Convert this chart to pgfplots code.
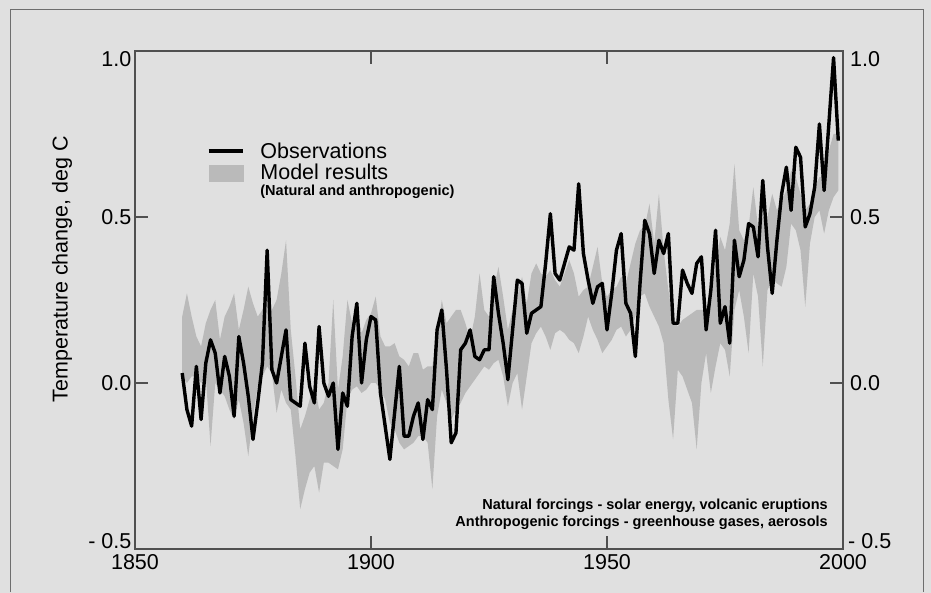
\documentclass[border=0pt]{standalone}
\usepackage{fontspec}
\setmainfont{Liberation Sans}
\usepackage{xcolor}
\usepackage{pgfplots}
\usepackage{pgfplotstable}
\pgfplotsset{compat=1.18}
\usepgfplotslibrary{fillbetween}

\definecolor{bg}{RGB}{224,224,224}
\definecolor{band}{RGB}{186,186,186}
\definecolor{axiscol}{RGB}{80,80,80}
\definecolor{framecol}{RGB}{110,110,110}

\newcommand\tickfont{\fontsize{21.5bp}{24bp}\selectfont}
\newcommand\notefont{\bfseries\fontsize{14.5bp}{16bp}\selectfont}

% observed global temperature anomaly (deg C)
\pgfplotstableread{
year obs
1860 0.03
1861 -0.08
1862 -0.13
1863 0.05
1864 -0.11
1865 0.06
1866 0.13
1867 0.09
1868 -0.03
1869 0.08
1870 0.02
1871 -0.10
1872 0.14
1873 0.06
1874 -0.04
1875 -0.17
1876 -0.06
1877 0.06
1878 0.40
1879 0.04
1880 0.00
1881 0.08
1882 0.16
1883 -0.05
1884 -0.06
1885 -0.07
1886 0.12
1887 -0.01
1888 -0.06
1889 0.17
1890 0.00
1891 -0.04
1892 0.00
1893 -0.20
1894 -0.03
1895 -0.07
1896 0.14
1897 0.24
1898 0.00
1899 0.13
1900 0.20
1901 0.19
1902 -0.03
1903 -0.13
1904 -0.23
1905 -0.09
1906 0.05
1907 -0.16
1908 -0.16
1909 -0.10
1910 -0.06
1911 -0.17
1912 -0.05
1913 -0.08
1914 0.16
1915 0.22
1916 0.04
1917 -0.18
1918 -0.15
1919 0.10
1920 0.12
1921 0.16
1922 0.08
1923 0.07
1924 0.10
1925 0.10
1926 0.32
1927 0.21
1928 0.12
1929 0.01
1930 0.16
1931 0.31
1932 0.30
1933 0.15
1934 0.21
1935 0.22
1936 0.23
1937 0.36
1938 0.51
1939 0.33
1940 0.31
1941 0.36
1942 0.41
1943 0.40
1944 0.60
1945 0.39
1946 0.31
1947 0.24
1948 0.29
1949 0.30
1950 0.16
1951 0.27
1952 0.40
1953 0.45
1954 0.24
1955 0.21
1956 0.08
1957 0.30
1958 0.49
1959 0.45
1960 0.33
1961 0.43
1962 0.39
1963 0.45
1964 0.18
1965 0.18
1966 0.34
1967 0.30
1968 0.27
1969 0.36
1970 0.38
1971 0.16
1972 0.28
1973 0.46
1974 0.18
1975 0.23
1976 0.12
1977 0.43
1978 0.32
1979 0.37
1980 0.48
1981 0.47
1982 0.38
1983 0.61
1984 0.41
1985 0.27
1986 0.43
1987 0.57
1988 0.65
1989 0.52
1990 0.71
1991 0.68
1992 0.47
1993 0.51
1994 0.59
1995 0.78
1996 0.58
1997 0.78
1998 0.98
1999 0.73
}\obsdata

% model ensemble range, natural + anthropogenic forcing
\pgfplotstableread{
year lo hi
1860 0.02 0.20
1861 0.00 0.27
1862 0.02 0.20
1863 0.02 0.14
1864 0.00 0.11
1865 0.02 0.18
1866 -0.19 0.22
1867 0.00 0.25
1868 -0.02 0.13
1869 -0.04 0.20
1870 -0.08 0.23
1871 -0.11 0.27
1872 -0.05 0.16
1873 -0.12 0.22
1874 -0.22 0.29
1875 -0.10 0.24
1876 -0.01 0.20
1877 0.02 0.22
1878 0.05 0.30
1879 0.03 0.22
1880 -0.09 0.25
1881 -0.02 0.33
1882 -0.06 0.43
1883 -0.08 0.16
1884 -0.22 0.02
1885 -0.38 -0.14
1886 -0.32 -0.10
1887 -0.27 -0.05
1888 -0.25 0.00
1889 -0.33 -0.08
1890 -0.24 -0.06
1891 -0.24 0.00
1892 -0.25 0.25
1893 -0.26 -0.02
1894 -0.20 0.08
1895 -0.05 0.25
1896 -0.02 0.18
1897 -0.01 0.23
1898 -0.03 0.15
1899 -0.02 0.19
1900 0.00 0.21
1901 0.00 0.26
1902 -0.02 0.14
1903 -0.05 0.11
1904 -0.12 0.11
1905 -0.14 0.12
1906 -0.18 0.08
1907 -0.20 0.07
1908 -0.19 0.05
1909 -0.18 0.09
1910 -0.16 0.09
1911 -0.16 0.04
1912 -0.18 0.05
1913 -0.32 0.05
1914 -0.10 0.15
1915 -0.02 0.25
1916 -0.06 0.18
1917 -0.11 0.20
1918 -0.08 0.22
1919 -0.06 0.22
1920 -0.03 0.18
1921 -0.01 0.13
1922 0.01 0.20
1923 0.03 0.33
1924 0.05 0.22
1925 0.04 0.20
1926 0.06 0.28
1927 0.07 0.35
1928 0.02 0.26
1929 -0.07 0.16
1930 0.00 0.22
1931 0.03 0.26
1932 -0.08 0.32
1933 0.02 0.24
1934 0.12 0.33
1935 0.15 0.36
1936 0.17 0.33
1937 0.14 0.32
1938 0.10 0.34
1939 0.15 0.31
1940 0.16 0.29
1941 0.15 0.33
1942 0.13 0.37
1943 0.12 0.33
1944 0.09 0.26
1945 0.14 0.28
1946 0.20 0.29
1947 0.16 0.35
1948 0.13 0.41
1949 0.09 0.30
1950 0.11 0.26
1951 0.13 0.28
1952 0.16 0.29
1953 0.17 0.32
1954 0.14 0.30
1955 0.16 0.36
1956 0.20 0.42
1957 0.26 0.46
1958 0.27 0.47
1959 0.23 0.54
1960 0.20 0.42
1961 0.17 0.57
1962 0.12 0.40
1963 -0.05 0.28
1964 -0.17 0.19
1965 0.04 0.17
1966 0.02 0.19
1967 -0.02 0.20
1968 -0.06 0.21
1969 -0.20 0.22
1970 0.00 0.22
1971 0.09 0.22
1972 -0.03 0.28
1973 0.05 0.35
1974 0.12 0.44
1975 0.10 0.40
1976 0.02 0.48
1977 0.22 0.66
1978 0.28 0.46
1979 0.20 0.43
1980 0.09 0.47
1981 0.33 0.59
1982 0.26 0.47
1983 0.05 0.50
1984 0.28 0.50
1985 0.31 0.57
1986 0.30 0.52
1987 0.29 0.55
1988 0.35 0.58
1989 0.48 0.64
1990 0.46 0.62
1991 0.40 0.57
1992 0.23 0.52
1993 0.42 0.54
1994 0.50 0.59
1995 0.52 0.62
1996 0.45 0.62
1997 0.52 0.70
1998 0.56 0.75
1999 0.58 0.75
}\banddata

\pagecolor{bg}
\begin{document}
\begin{tikzpicture}
\path (0bp,0bp) rectangle (931bp,592bp);
\draw[framecol, line width=1.2bp] (10.5bp,0bp) -- (10.5bp,582.5bp) -- (923.5bp,582.5bp) -- (923.5bp,0bp);

\begin{axis}[
  at={(135bp,43bp)}, anchor=south west,
  scale only axis, width=708bp, height=498bp,
  xmin=1850, xmax=2000, ymin=-0.5, ymax=1.0,
  clip=false,
  axis line style={axiscol, line width=1.2bp},
  tick style={axiscol, line width=1.2bp},
  major tick length=13bp,
  tick align=inside,
  xtick={1850,1900,1950,2000},
  xticklabels={1850,1900,1950,2000},
  ytick={0,0.5},
  yticklabels={0.0,0.5},
  xtick pos=both, ytick pos=both,
  xticklabel pos=bottom, yticklabel pos=left,
  xticklabel style={font=\tickfont, yshift=-2bp},
  yticklabel style={font=\tickfont, inner sep=0pt, xshift=-3.5bp},
  ylabel={Temperature change, deg C},
  ylabel style={font=\tickfont, at={(axis description cs:-0.103,0.562)}, anchor=center},
  legend cell align=left,
  legend style={at={(axis description cs:0.1017,0.8143)}, anchor=north west,
    draw=none, fill=none, inner sep=0pt, outer sep=0pt,
    column sep=16bp, row sep=0pt,
    nodes={inner sep=0pt, text height=15.5bp, text depth=5.5bp, font=\tickfont}},
]
\addplot[name path=hi, draw=none, forget plot] table[x=year, y=hi] {\banddata};
\addplot[name path=lo, draw=none, forget plot] table[x=year, y=lo] {\banddata};
\addplot[fill=band, draw=none, forget plot] fill between[of=hi and lo];
\addplot[black, line width=3.4bp, line join=round, forget plot] table[x=year, y=obs] {\obsdata};

\addlegendimage{legend image code/.code={\draw[black, line width=3.4bp] (0bp,3bp) -- (34bp,3bp);}}
\addlegendentry{Observations}
\addlegendimage{legend image code/.code={\fill[band] (0bp,-6bp) rectangle (34bp,10bp);}}
\addlegendentry{Model results}
\addlegendimage{empty legend}
\addlegendentry[font=\notefont, text height=10.5bp, text depth=3.5bp]{(Natural and anthropogenic)}

% corner and right-hand tick labels
\node[anchor=north east, inner sep=0pt, font=\tickfont, xshift=-3.5bp] at (axis cs:1850,1.0) {1.0};
\node[anchor=base east, inner sep=0pt, font=\tickfont, xshift=-3.5bp] at (axis cs:1850,-0.5) {- 0.5};
\node[anchor=north west, inner sep=0pt, font=\tickfont, xshift=7bp] at (axis cs:2000,1.0) {1.0};
\node[anchor=west, inner sep=0pt, font=\tickfont, xshift=7bp] at (axis cs:2000,0.5) {0.5};
\node[anchor=west, inner sep=0pt, font=\tickfont, xshift=7bp] at (axis cs:2000,0) {0.0};
\node[anchor=base west, inner sep=0pt, font=\tickfont, xshift=5bp] at (axis cs:2000,-0.5) {- 0.5};

\node[anchor=base east, inner sep=0pt, font=\notefont] at (axis cs:1996.8,-0.3825) {Natural forcings - solar energy, volcanic eruptions};
\node[anchor=base east, inner sep=0pt, font=\notefont] at (axis cs:1996.8,-0.4337) {Anthropogenic forcings - greenhouse gases, aerosols};
\end{axis}
\end{tikzpicture}
\end{document}
